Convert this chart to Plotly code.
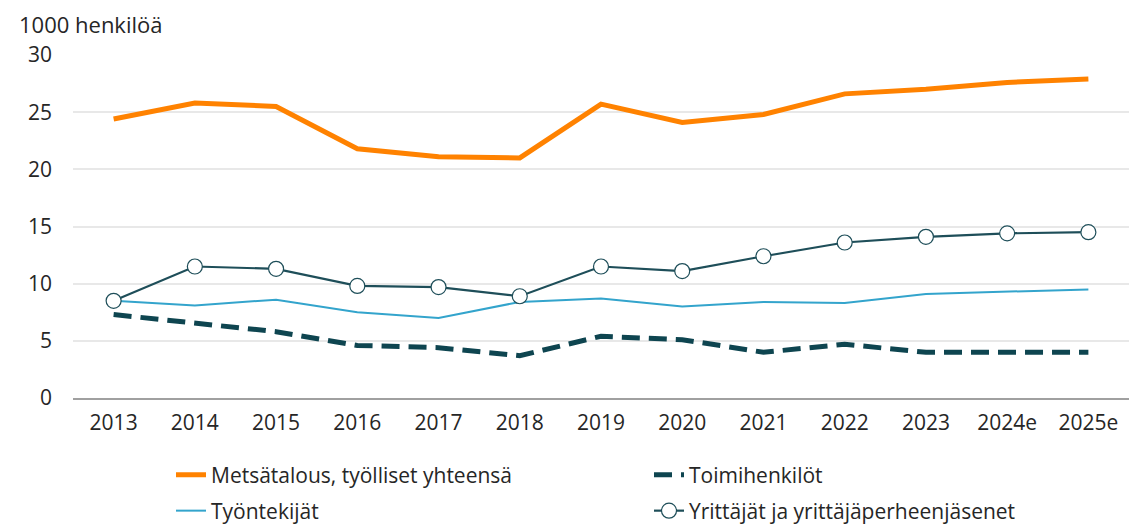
import plotly.graph_objects as go

years = ["2013", "2014", "2015", "2016", "2017", "2018", "2019", "2020", "2021", "2022", "2023", "2024e", "2025e"]
metsatalous = [24.4, 25.8, 25.5, 21.8, 21.1, 21.0, 25.7, 24.1, 24.8, 26.6, 27.0, 27.6, 27.9]
toimihenkilot = [7.3, 6.5, 5.8, 4.6, 4.4, 3.7, 5.4, 5.1, 4.0, 4.7, 4.0, 4.0, 4.0]
tyontekijat = [8.5, 8.1, 8.6, 7.5, 7.0, 8.4, 8.7, 8.0, 8.4, 8.3, 9.1, 9.3, 9.5]
yrittajat = [8.5, 11.5, 11.3, 9.8, 9.7, 8.9, 11.5, 11.1, 12.4, 13.6, 14.1, 14.4, 14.5]
y_ticks = [0, 5, 10, 15, 20, 25, 30]

FONT = "Open Sans"
TXT = "#262626"
FS = 21

# page body has an 8px default margin; size the figure to fit the window
OFF = 8
W, H = 1148 - OFF, 524 - OFF
L, R, T, B = 73 - OFF, 19, 55 - OFF, 126
PW, PH = W - L - R, H - T - B

fig = go.Figure()
fig.add_trace(go.Scatter(x=years, y=metsatalous, mode="lines", name="Metsätalous, työlliset yhteensä",
                         line=dict(color="#FF8200", width=5), legend="legend"))
fig.add_trace(go.Scatter(x=years, y=toimihenkilot, mode="lines", name="Toimihenkilöt",
                         line=dict(color="#0E4550", width=5, dash="18px,9px"), legend="legend2"))
fig.add_trace(go.Scatter(x=years, y=tyontekijat, mode="lines", name="Työntekijät",
                         line=dict(color="#33A4CC", width=2), legend="legend3"))
fig.add_trace(go.Scatter(x=years, y=yrittajat, mode="lines+markers", name="Yrittäjät ja yrittäjäperheenjäsenet",
                         line=dict(color="#1E4E59", width=2.2),
                         marker=dict(symbol="circle", size=15, color="white",
                                     line=dict(color="#1E4E59", width=1.2)),
                         legend="legend4"))


def leg(px_x, px_y):
    return dict(xref="container", yref="container", x=(px_x - OFF) / W, y=1 - (px_y - OFF) / H,
                xanchor="left", yanchor="middle", orientation="h",
                bgcolor="rgba(0,0,0,0)", borderwidth=0,
                font=dict(family=FONT, size=FS, color=TXT))


fig.update_layout(
    width=W, height=H,
    margin=dict(l=L, r=R, t=T, b=B),
    paper_bgcolor="white", plot_bgcolor="white",
    font=dict(family=FONT, size=FS, color=TXT),
    showlegend=True,
    legend=leg(171, 475),
    legend2=leg(649, 475),
    legend3=leg(171, 511),
    legend4=leg(649, 511),
    annotations=[dict(text="1000 henkilöä", xref="paper", yref="paper",
                      x=(18 - OFF - L) / PW, y=(T + PH) / PH,
                      xanchor="left", yanchor="top", showarrow=False, borderpad=0,
                      font=dict(family=FONT, size=22, color=TXT))],
)
fig.update_xaxes(type="category", range=[-0.5, len(years) - 0.5], showgrid=False, showline=True,
                 linecolor="#a0a0a0", linewidth=1.5,
                 ticks="", tickfont=dict(size=FS, color=TXT), ticklabelstandoff=5)
fig.update_yaxes(range=[0, 30], tickvals=y_ticks, showgrid=True, gridcolor="#e8e8e8", gridwidth=1.5,
                 zeroline=False, ticks="", tickfont=dict(size=FS, color=TXT), ticklabelstandoff=20)

fig.write_html("out.html")
